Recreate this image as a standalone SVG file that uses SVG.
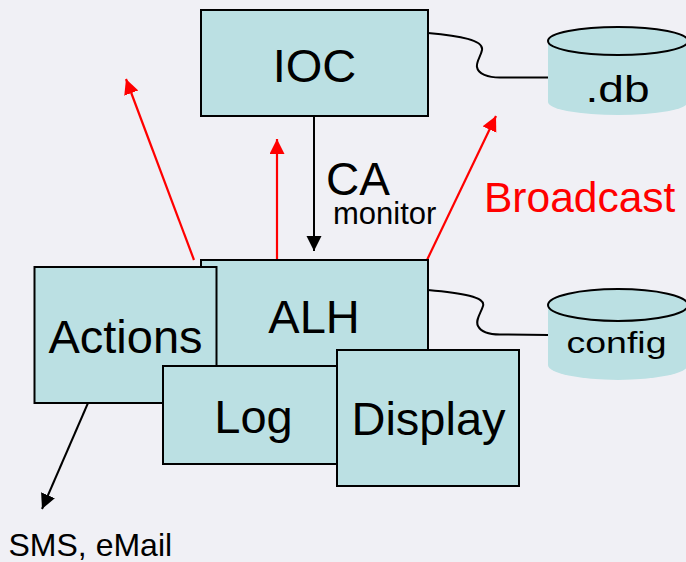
<svg xmlns="http://www.w3.org/2000/svg" width="686" height="562" viewBox="0 0 686 562">
  <style>
    .box { fill: #bbe0e3; stroke: #000; stroke-width: 2; }
    .lbl { font-family: "Liberation Sans", Arial, sans-serif; fill: #000; }
    .big { font-size: 47px; text-anchor: middle; }
    .cyl { fill: #bbe0e3; }
    .cyltop { fill: #bbe0e3; stroke: #000; stroke-width: 2; }
    .wire { fill: none; stroke: #000; stroke-width: 2; }
    .flow { fill: none; stroke: #000; stroke-width: 2; }
    .bcast { fill: none; stroke: #ff0000; stroke-width: 2.2; }
  </style>
  <defs>
    <marker id="headBlack" markerUnits="userSpaceOnUse" markerWidth="16" markerHeight="16" refX="15" refY="7.5" orient="auto">
      <path d="M0,0 L15,7.5 L0,15 Z" fill="#000"/>
    </marker>
    <marker id="headRed" markerUnits="userSpaceOnUse" markerWidth="16" markerHeight="16" refX="15" refY="7.5" orient="auto">
      <path d="M0,0 L15,7.5 L0,15 Z" fill="#ff0000"/>
    </marker>
  </defs>

  <rect width="686" height="562" fill="#f0f0f5"/>

  <!-- connectors -->
  <g id="connectors">
    <path class="wire" d="M428,33 C460,36 484,40 482,50 C481,56 476,62 477,67 C478,74 488,77.5 500,77.5 L548,77.5"/>
    <path class="wire" d="M428,290 C462,293 486,297 483,306 C481,313 475,320 478,326 C481,332 490,334.5 500,334.5 L548,335"/>
    <line class="flow" x1="314" y1="116" x2="314" y2="251" marker-end="url(#headBlack)"/>
    <line class="flow" x1="88" y1="403" x2="42" y2="509" marker-end="url(#headBlack)"/>
    <line class="bcast" x1="194" y1="260" x2="126" y2="79" marker-end="url(#headRed)"/>
    <line class="bcast" x1="277" y1="260" x2="277" y2="139" marker-end="url(#headRed)"/>
    <line class="bcast" x1="427" y1="260" x2="496" y2="116" marker-end="url(#headRed)"/>
  </g>

  <g id="ioc">
    <rect class="box" x="201" y="10" width="227" height="106"/>
    <text class="lbl big" x="314.5" y="82" font-size="48">IOC</text>
  </g>

  <g id="db">
    <path class="cyl" d="M548,41 L548,102 A70,13 0 0 0 688,102 L688,41 Z"/>
    <ellipse class="cyltop" cx="618" cy="41" rx="70" ry="14"/>
    <text class="lbl" x="617.5" y="102" font-size="37" text-anchor="middle" textLength="64" lengthAdjust="spacingAndGlyphs">.db</text>
  </g>

  <g id="ca-label">
    <text class="lbl" x="326" y="195" font-size="46">CA</text>
    <text class="lbl" x="333" y="224" font-size="31">monitor</text>
  </g>

  <g id="broadcast-label">
    <text class="lbl" x="484" y="212" font-size="42.5" style="fill:#ff0000">Broadcast</text>
  </g>

  <g id="alh">
    <rect class="box" x="201" y="260" width="227" height="115"/>
    <text class="lbl big" x="314" y="333">ALH</text>
  </g>

  <g id="config">
    <path class="cyl" d="M548,305 L548,365 A70,15 0 0 0 688,365 L688,305 Z"/>
    <ellipse class="cyltop" cx="618" cy="305" rx="70" ry="16"/>
    <text class="lbl" x="616.5" y="353" font-size="29" text-anchor="middle" textLength="100" lengthAdjust="spacingAndGlyphs">config</text>
  </g>

  <g id="actions">
    <rect class="box" x="34.5" y="267" width="182" height="136"/>
    <text class="lbl big" x="125.5" y="353" font-size="48">Actions</text>
  </g>

  <g id="log">
    <rect class="box" x="163" y="366" width="180" height="98"/>
    <text class="lbl big" x="253.5" y="433" font-size="46">Log</text>
  </g>

  <g id="display">
    <rect class="box" x="337" y="350" width="182" height="136"/>
    <text class="lbl big" x="428.5" y="435">Display</text>
  </g>

  <g id="sms-label">
    <text class="lbl" x="8.5" y="556" font-size="32">SMS, eMail</text>
  </g>
</svg>
